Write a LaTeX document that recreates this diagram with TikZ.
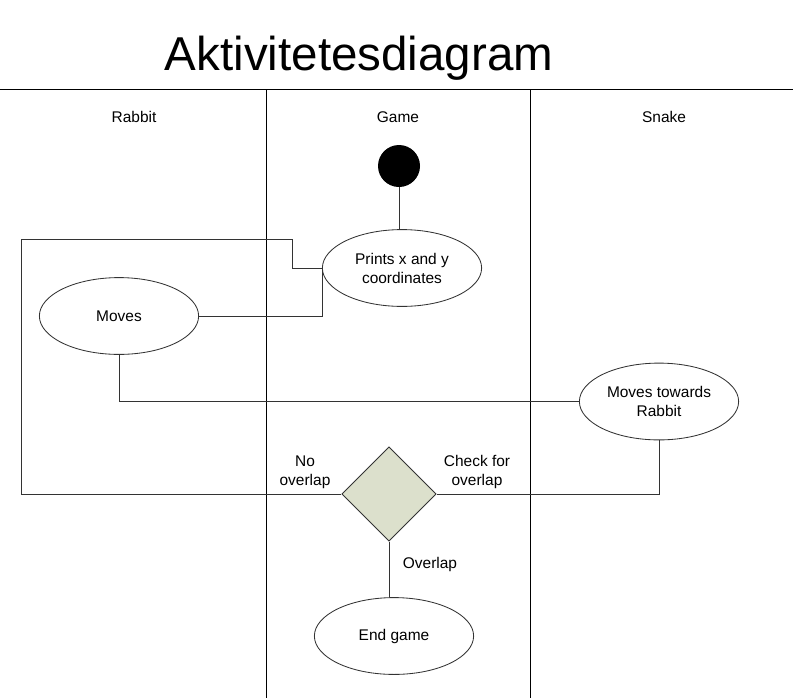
\documentclass[tikz,border=0pt]{standalone}
\usepackage{fontspec}
\setmainfont{Liberation Sans}
\usetikzlibrary{positioning,shapes.geometric}
\definecolor{DiagLine}{HTML}{333333}
\definecolor{DecisionFill}{HTML}{DCE0CC}

\begin{document}
\begin{tikzpicture}[
    x=0.025cm, y=-0.025cm,
    lane/.style={draw=black, line width=1.3pt},
    activity/.style={
      ellipse,
      draw=DiagLine,
      line width=0.6pt,
      minimum width=3.98cm,
      minimum height=1.92cm,
      inner sep=0pt,
      align=center,
      font=\fontsize{11}{13.5}\selectfont
    },
    decision/.style={diamond, draw=DiagLine, fill=DecisionFill, line width=0.6pt,
      minimum width=2.36cm, minimum height=2.36cm, inner sep=0pt},
    lanelabel/.style={font=\fontsize{11}{13.5}\selectfont},
    guard/.style={align=center, font=\fontsize{11}{13.5}\selectfont},
    link/.style={draw=DiagLine, line width=0.6pt}
  ]
    \useasboundingbox (0,0) rectangle (793,698);

    % title and swimlanes
    \node[font=\fontsize{33.8}{40}\selectfont, anchor=base] (title) at (359,70.7)
      {Aktivitetesdiagram};
    \draw[lane] (0,89.5) -- (793,89.5);
    \draw[lane] (266.5,89.5) -- (266.5,698);
    \draw[lane] (530.5,89.5) -- (530.5,698);

    \node[lanelabel] (rabbitlane) at (134,117) {Rabbit};
    \node[lanelabel] (gamelane) at (398,117) {Game};
    \node[lanelabel] (snakelane) at (664,117) {Snake};

    % activities
    \node[circle, fill=black, minimum size=1.05cm, inner sep=0pt] (start) at (399,166) {};
    \node[activity] (prints) at (402,268) {Prints x and y\\coordinates};
    \node[activity] (moves) at (119,316) {Moves};
    \node[activity] (chase) at (659,401.5) {Moves towards\\Rabbit};
    \node[decision] (check) at (389,494) {};
    \node[activity] (endgame) at (394,636) {End game};

    \coordinate (loopturn) at (292.5,239.5);
    \coordinate (loopedge) at (21,239.5);

    \node[guard] (nooverlap) at (305,472) {No\\overlap};
    \node[guard] (checkfor) at (477,472) {Check for\\overlap};
    \node[guard] (overlap) at (430,564) {Overlap};

    % connectors
    \draw[link] (start.south) -- (start.south |- prints.north);
    \draw[link] (moves.east) -| (prints.west);
    \draw[link] (prints.west) -| (loopturn) -- (loopedge) |- (check.west);
    \draw[link] (moves.south) |- (chase.west);
    \draw[link] (chase.south) |- (check.east);
    \draw[link] (check.south) -- (check.south |- endgame.north);
  \end{tikzpicture}
\end{document}
